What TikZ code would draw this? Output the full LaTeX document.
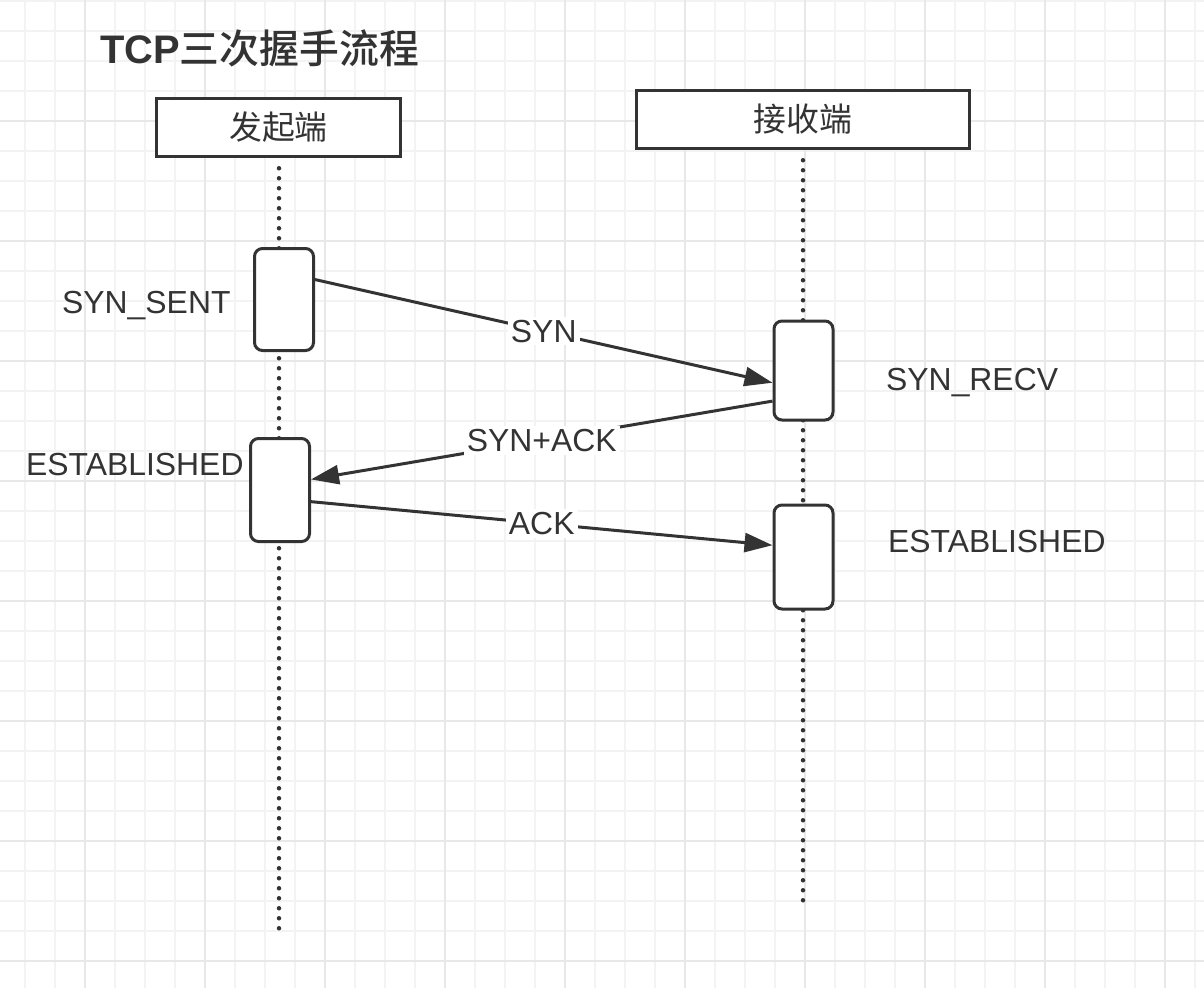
\documentclass[tikz,border=0pt]{standalone}
\usepackage{fontspec}
\setmainfont{Liberation Sans}
\newfontfamily\cjk{Noto Sans CJK SC}
\newfontfamily\cjkmed{Noto Sans CJK SC Medium}
\usetikzlibrary{arrows.meta,calc}
\definecolor{ink}{HTML}{333333}
\definecolor{gminor}{HTML}{F3F3F3}
\definecolor{gmajor}{HTML}{E8E8E8}
\tikzset{
  minorgrid/.style={draw=gminor, line width=1.5bp},
  majorgrid/.style={draw=gmajor, line width=2bp},
  headbox/.style={draw=ink, line width=3.5bp, fill=white, inner sep=0pt, minimum height=58bp, font=\cjk\fontsize{33}{38}\selectfont, text=ink},
  actbox/.style={draw=ink, line width=3bp, fill=white, rounded corners=8bp, inner sep=0pt, minimum width=59bp},
  lifeline/.style={draw=ink, line width=4.5bp, line cap=round, dash pattern=on 0bp off 10bp},
  msg/.style={draw=ink, line width=3bp, -{Triangle[length=28bp,width=19bp]}},
  msglabel/.style={fill=white, text=ink, inner sep=3bp, font=\fontsize{32}{36}\selectfont, pos=0.5},
  statelabel/.style={text=ink, inner sep=0pt, font=\fontsize{32}{36}\selectfont},
}
\begin{document}
\begin{tikzpicture}[x=1bp, y=-1bp]
\useasboundingbox (0,0) rectangle (1204,988);
\fill[white] (0,0) rectangle (1204,988);
% grid
\foreach \x in {25,55,...,1195} \draw[minorgrid] (\x,0) -- (\x,988);
\foreach \y in {1,31,...,985} \draw[minorgrid] (0,\y) -- (1204,\y);
\foreach \x in {85,205,...,1165} \draw[majorgrid] (\x,0) -- (\x,988);
\foreach \y in {121,241,...,961} \draw[majorgrid] (0,\y) -- (1204,\y);

% title
\node[anchor=base west, inner sep=0pt, text=ink] (title) at (100,63)
  {\fontsize{40}{44}\selectfont{\bfseries TCP}{\mdseries\cjkmed 三次握手流程}};

% lifeline ends
\coordinate (lend) at (279,931);
\coordinate (rend) at (803,903);

% header boxes
\node[headbox, minimum width=244bp] (sender) at (278.5,127.5) {发起端};
\node[headbox, minimum width=333bp] (recv) at (803,119.5) {接收端};

% lifelines
\draw[lifeline] (sender.south -| lend) ++(0,10) -- (lend);
\draw[lifeline] (recv.south -| rend) ++(0,10) -- (rend);

% activation boxes
\node[actbox, minimum height=102bp] (l1) at (284,299.5) {};
\node[actbox, minimum height=103bp] (l2) at (280,490) {};
\node[actbox, minimum height=99bp] (r1) at (803.5,370.5) {};
\node[actbox, minimum height=104bp] (r2) at (803.5,557) {};

% state labels
\node[statelabel, anchor=base west] (s1) at (62,313) {SYN\_SENT};
\node[statelabel, anchor=base west] (s2) at (26,475) {ESTABLISHED};
\node[statelabel, anchor=base west] (s3) at (886,390) {SYN\_RECV};
\node[statelabel, anchor=base west] (s4) at (888,552) {ESTABLISHED};

% messages
\draw[msg] ($(l1.north east)!0.31!(l1.south east)$) -- node[msglabel] {SYN} ($(r1.north west)!0.62!(r1.south west)$);
\draw[msg] ($(r1.north west)!0.80!(r1.south west)$) -- node[msglabel] {SYN+ACK} ($(l2.north east)!0.40!(l2.south east)$);
\draw[msg] ($(l2.north east)!0.61!(l2.south east)$) -- node[msglabel] {ACK} ($(r2.north west)!0.39!(r2.south west)$);
\end{tikzpicture}
\end{document}
